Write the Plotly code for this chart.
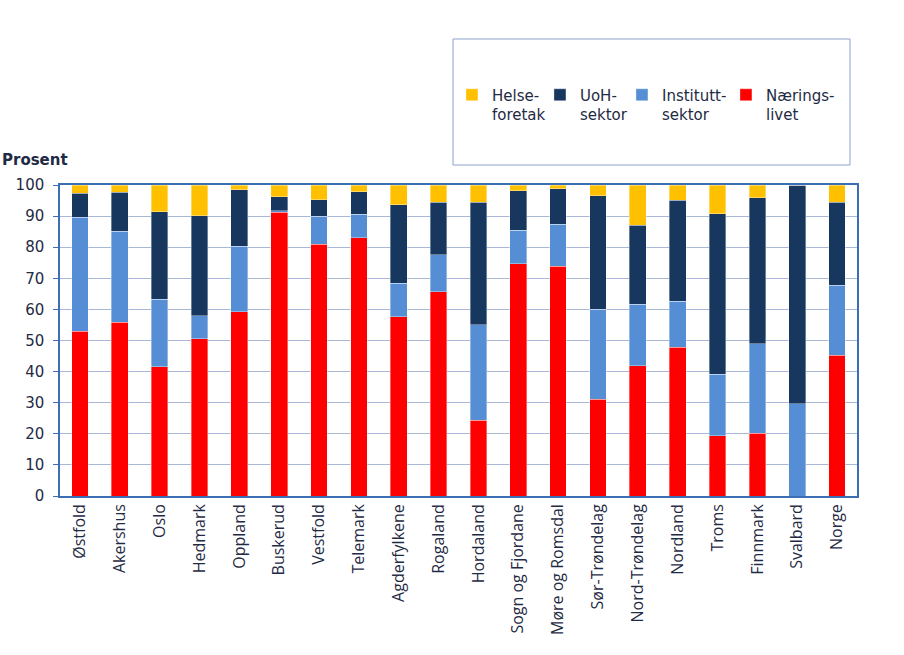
import plotly.graph_objects as go

regions = ["Østfold", "Akershus", "Oslo", "Hedmark", "Oppland", "Buskerud", "Vestfold",
           "Telemark", "Agderfylkene", "Rogaland", "Hordaland", "Sogn og Fjordane",
           "Møre og Romsdal", "Sør-Trøndelag", "Nord-Trøndelag", "Nordland", "Troms",
           "Finnmark", "Svalbard", "Norge"]

naeringslivet = [53.0, 55.8, 41.6, 50.6, 59.3, 91.3, 80.9, 83.1, 57.7, 65.7, 24.4, 74.7,
                 73.8, 31.1, 41.9, 47.8, 19.3, 20.2, 0.0, 45.2]
institutt = [36.6, 29.4, 21.6, 7.3, 21.0, 0.5, 9.1, 7.5, 10.7, 11.8, 30.6, 10.8,
             13.6, 28.9, 19.8, 14.9, 19.9, 28.7, 29.6, 22.6]
uoh = [7.8, 12.5, 28.2, 32.2, 18.1, 4.4, 5.3, 7.3, 25.3, 17.0, 39.5, 12.6,
       11.4, 36.6, 25.3, 32.4, 51.6, 47.0, 70.4, 26.7]
helse = [2.6, 2.3, 8.6, 9.9, 1.6, 3.8, 4.7, 2.1, 6.3, 5.5, 5.5, 1.9,
         1.2, 3.4, 13.0, 4.9, 9.2, 4.1, 0.0, 5.5]

series_names = ["Nærings-<br>livet", "Institutt-<br>sektor", "UoH-<br>sektor", "Helse-<br>foretak"]
series_values = [naeringslivet, institutt, uoh, helse]
series_colors = ["#FF0000", "#558ED5", "#17375E", "#FFC000"]
legend_widths = [70, 59, 37, 43]

fig = go.Figure()
for name, vals, col, lw in zip(series_names, series_values, series_colors, legend_widths):
    fig.add_trace(go.Bar(
        x=regions, y=vals, name=name,
        marker=dict(color=col, line=dict(width=0.6, color="rgba(255,255,255,0.6)")),
        width=0.42,
        legendwidth=lw,
    ))

fig.update_layout(
    barmode="stack",
    width=904, height=655,
    margin=dict(l=60, r=47, t=185, b=159),
    paper_bgcolor="white", plot_bgcolor="white",
    showlegend=True,
    legend=dict(
        orientation="h", traceorder="reversed",
        x=0.4918, y=1.3424, xanchor="left", yanchor="top",
        font=dict(family="DejaVu Sans", size=15, color="#1F2A44"),
        valign="top",
        bgcolor="rgba(0,0,0,0)",
        itemwidth=30,
    ),
    shapes=[dict(type="rect", xref="paper", yref="paper",
                 x0=(453 - 60) / 797, x1=(850 - 60) / 797,
                 y0=(496 - 165) / 311, y1=(496 - 39) / 311,
                 line=dict(color="#8EA2CC", width=1), fillcolor="rgba(0,0,0,0)")],
    annotations=[dict(text="<b>Prosent</b>", xref="paper", yref="paper",
                      x=-60 / 797, y=(496 - 160) / 311, xanchor="left", yanchor="middle",
                      showarrow=False,
                      font=dict(family="DejaVu Sans", size=15, color="#1F2A44"))],
)

fig.update_yaxes(
    range=[0, 100], dtick=10,
    showgrid=True, gridcolor="#A9B8D6", gridwidth=1,
    showline=True, linecolor="#3C6EB4", linewidth=1.5, mirror=True,
    ticks="outside", ticklen=5, tickcolor="#3C6EB4", tickwidth=1,
    ticklabelstandoff=6,
    zeroline=False,
    tickfont=dict(family="DejaVu Sans", size=15, color="#1F2A44"),
)
fig.update_xaxes(
    showline=True, linecolor="#3C6EB4", linewidth=1.5, mirror=True,
    tickangle=-90, ticks="",
    tickfont=dict(family="Open Sans", size=16, color="#1F2A44"),
)

fig.write_html("out.html")
